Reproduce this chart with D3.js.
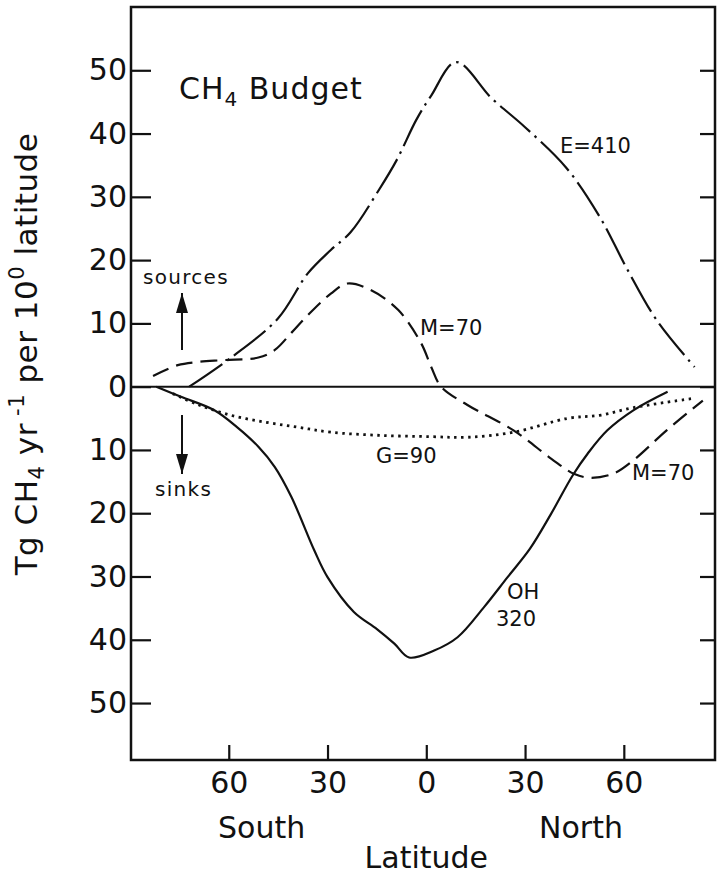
<!DOCTYPE html>
<html>
<head>
<meta charset="utf-8">
<script src="https://cdn.jsdelivr.net/npm/d3@7"></script>
<style>
  body { margin: 0; background: #fff; }
  svg { display: block; font-family: 'DejaVu Sans', sans-serif; }
  text { fill: #111; }
</style>
</head>
<body>
<svg></svg>
<script>
let width = 717;
let height = 874;

// latitude (deg, south negative) and Tg CH4 / yr per 10 deg (sinks negative)
const emissionLat = [-72, -59, -45, -36, -29, -23, -14.5, -9, -3, 1.5, 9, 20, 30, 42.5, 52.5, 61, 70, 81.5];
const emissionVal = [0, 4.7, 10.8, 17.9, 21.6, 24.4, 31, 35.8, 42.2, 46, 51.3, 45.5, 41, 34.6, 27, 18.6, 10.5, 3.1];

const methaneLat = [-83, -75.5, -69.5, -61.5, -51, -46, -41, -36, -29, -24, -17, -8.5, -1.5, 1.5, 4.5, 12.5, 26.5, 38, 45, 50, 57, 63, 73, 84];
const methaneVal = [1.7, 3.4, 3.9, 4.2, 4.6, 5.8, 8.5, 11.3, 14.7, 16.3, 15.3, 12.1, 6.8, 3.1, 0, -2.9, -6.9, -11.4, -13.8, -14.4, -13.7, -11.6, -6.9, -2.2];

const groundLat = [-77, -69.5, -59.5, -49, -39, -29, -14, 1.5, 12.5, 26.5, 43, 53, 63, 80.5];
const groundVal = [-1.1, -2.8, -4.5, -5.6, -6.4, -7.2, -7.7, -7.9, -8, -7.2, -5, -4.5, -3.3, -1.9];

const ohLat = [-82, -74.5, -64.5, -57.5, -51, -46, -41, -34, -30, -22, -15, -9.7, -5.2, 2.4, 9.5, 17.6, 24.7, 31.5, 37.9, 44.5, 49, 55, 63, 73.3];
const ohVal = [0, -1.6, -3.7, -6.4, -9.5, -12.7, -17.4, -25.9, -30.1, -35.6, -38.3, -40.6, -42.8, -41.7, -39.6, -34.8, -30.1, -25.6, -20.1, -14, -10.6, -6.9, -3.7, -0.8];

const latTicks = [-60, -30, 0, 30, 60];
const valueTicks = [-50, -40, -30, -20, -10, 0, 10, 20, 30, 40, 50];

let svg = d3.select('svg')
            .attr('width', width)
            .attr('height', height);

let x = d3.scaleLinear().domain([-90, 88]).range([130, 716]);
let y = d3.scaleLinear().domain([-59, 60]).range([760, 7]);

// frame
svg.append('rect')
  .attr('x', 131).attr('y', 7)
  .attr('width', 715 - 131).attr('height', 760 - 7)
  .attr('fill', 'none')
  .attr('stroke', '#111')
  .attr('stroke-width', 2.5);

svg.append('g')
  .attr('transform', 'translate(131,0)')
  .call(d3.axisLeft(y)
          .tickValues(valueTicks)
          .tickSizeInner(-20)
          .tickSizeOuter(0)
          .tickPadding(4)
          .tickFormat(d => Math.abs(d)));

svg.append('g')
  .attr('transform', 'translate(715,0)')
  .call(d3.axisRight(y)
          .tickValues(valueTicks)
          .tickSizeInner(-15)
          .tickSizeOuter(0)
          .tickFormat(''));

svg.append('g')
  .attr('transform', 'translate(0,760)')
  .call(d3.axisBottom(x)
          .tickValues(latTicks)
          .tickSizeInner(-15)
          .tickSizeOuter(0)
          .tickPadding(12)
          .tickFormat(d => Math.abs(d)));

svg.selectAll('.domain').remove();
svg.selectAll('.tick line').attr('stroke', '#111').attr('stroke-width', 2.2);
svg.selectAll('.tick text')
  .attr('fill', '#111')
  .style('font-family', "'DejaVu Sans', sans-serif")
  .style('font-size', '30px');

// zero line
svg.append('line')
  .attr('x1', 131).attr('x2', 715)
  .attr('y1', y(0)).attr('y2', y(0))
  .attr('stroke', '#111')
  .attr('stroke-width', 2);

let line = d3.line()
  .x(d => x(d[0]))
  .y(d => y(d[1]))
  .curve(d3.curveCatmullRom.alpha(0.5));

const series = [
  { lat: emissionLat, val: emissionVal, dash: '40,6,2.5,6' },
  { lat: methaneLat, val: methaneVal, dash: '17,8' },
  { lat: groundLat, val: groundVal, dash: '2.5,4.5' },
  { lat: ohLat, val: ohVal, dash: null }
];

svg.selectAll('.curve')
  .data(series)
  .enter()
  .append('path')
    .classed('curve', true)
    .attr('d', s => line(s.lat.map((l, i) => [l, s.val[i]])))
    .attr('fill', 'none')
    .attr('stroke', '#111')
    .attr('stroke-width', (s, i) => i === 2 ? 2.8 : 2.2)
    .attr('stroke-dasharray', s => s.dash);

// curve labels
function label(txt, px, py, size) {
  return svg.append('text')
    .attr('x', px).attr('y', py)
    .style('font-size', size + 'px')
    .text(txt);
}
label('E=410', 560, 153, 21);
label('M=70', 420, 335, 21);
label('G=90', 376, 463, 21);
label('M=70', 632, 480, 21);
label('OH', 507, 599, 21);
label('320', 496, 626, 21);
label('sources', 143, 284, 20).style('letter-spacing', '1.3px');
label('sinks', 155, 496, 20).style('letter-spacing', '1.3px');

// arrows
svg.append('defs')
  .append('marker')
    .attr('id', 'head')
    .attr('viewBox', '0 0 20 12')
    .attr('refX', 20).attr('refY', 6)
    .attr('markerWidth', 20).attr('markerHeight', 12)
    .attr('markerUnits', 'userSpaceOnUse')
    .attr('orient', 'auto')
  .append('path')
    .attr('d', 'M0,0 L20,6 L0,12 Z')
    .attr('fill', '#111');

svg.append('line')
  .attr('x1', 182).attr('x2', 182)
  .attr('y1', 350).attr('y2', 293)
  .attr('stroke', '#111').attr('stroke-width', 2)
  .attr('marker-end', 'url(#head)');
svg.append('line')
  .attr('x1', 182).attr('x2', 182)
  .attr('y1', 415).attr('y2', 474)
  .attr('stroke', '#111').attr('stroke-width', 2)
  .attr('marker-end', 'url(#head)');

// title
let title = svg.append('text')
  .attr('x', 179).attr('y', 99)
  .style('font-size', '30px')
  .style('letter-spacing', '1px');
title.append('tspan').text('CH');
title.append('tspan').attr('dy', 7).style('font-size', '20px').text('4');
title.append('tspan').attr('dy', -7).text(' Budget');

// y axis title
let ylab = svg.append('text')
  .attr('transform', 'translate(37,354) rotate(-90)')
  .attr('text-anchor', 'middle')
  .style('font-size', '31px')
  .style('letter-spacing', '0.5px');
ylab.append('tspan').text('Tg CH');
ylab.append('tspan').attr('dy', 7).style('font-size', '21px').text('4');
ylab.append('tspan').attr('dy', -7).text(' yr');
ylab.append('tspan').attr('dy', -13).style('font-size', '21px').text(' -1');
ylab.append('tspan').attr('dy', 13).text(' per 10');
ylab.append('tspan').attr('dy', -13).style('font-size', '21px').text('0');
ylab.append('tspan').attr('dy', 13).text(' latitude');

// x axis titles
svg.append('text')
  .attr('x', x(-50)).attr('y', 838)
  .attr('text-anchor', 'middle')
  .style('font-size', '30px')
  .text('South');
svg.append('text')
  .attr('x', x(47)).attr('y', 838)
  .attr('text-anchor', 'middle')
  .style('font-size', '30px')
  .text('North');
svg.append('text')
  .attr('x', x(0)).attr('y', 868)
  .attr('text-anchor', 'middle')
  .style('font-size', '30px')
  .text('Latitude');
</script>
</body>
</html>
